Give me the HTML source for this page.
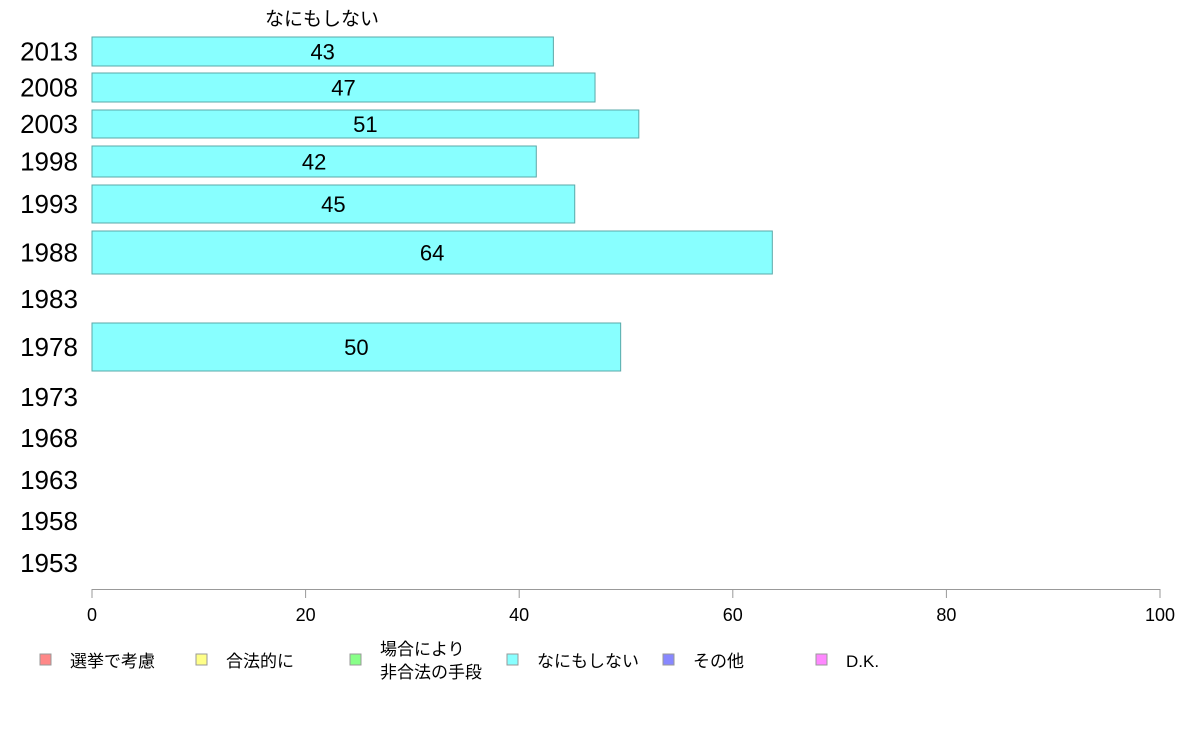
<!DOCTYPE html>
<html><head><meta charset="utf-8"><style>
body{margin:0;background:#fff;}
svg{display:block;font-family:"Liberation Sans","Noto Sans CJK JP",sans-serif;}
</style></head><body>
<svg id="chart" width="1188" height="736" viewBox="0 0 1188 736">
<text x="322" y="25" font-size="19" text-anchor="middle">なにもしない</text>
<g id="bars"></g>
<g id="axis"></g>
<g id="legend"></g>
</svg>
<script>
const years = ["2013","2008","2003","1998","1993","1988","1983","1978","1973","1968","1963","1958","1953"];
const values = [43.2,47.1,51.2,41.6,45.2,63.7,null,49.5,null,null,null,null,null];
const labels = ["43","47","51","42","45","64","","50","","","","",""];
const ticks = [0,20,40,60,80,100];
const legendItems = ["選挙で考慮","合法的に","場合により|非合法の手段","なにもしない","その他","D.K."];
const legendColors = ["#ff8888","#ffff88","#88ff88","#88ffff","#8888ff","#ff88ff"];
// layout (pixels)
const rowCenter = [51.5,87.5,124,161.5,204,252.5,299,347,397,438,480,521,563];
const rowHeight = [29,29,28,31,38,43,40,48,40,40,40,40,40];
const NS="http://www.w3.org/2000/svg";
const x0=92,x1=1160;
const xs=v=>x0+(v/100)*(x1-x0);
function mk(tag,attrs,parent){const e=document.createElementNS(NS,tag);for(const k in attrs)e.setAttribute(k,attrs[k]);parent.appendChild(e);return e;}
const gb=document.getElementById("bars");
years.forEach((y,i)=>{
  const t=mk("text",{x:49,y:rowCenter[i]+9,"font-size":26,"text-anchor":"middle"},gb);
  t.textContent=y;
  
  
  if(values[i]!=null){
    const r=mk("rect",{x:x0,y:rowCenter[i]-rowHeight[i]/2,width:xs(values[i])-x0,height:rowHeight[i],fill:"#88ffff",stroke:"#5aa8a8","stroke-width":1},gb);
    
    
    const v=mk("text",{x:(x0+xs(values[i]))/2,y:rowCenter[i]+8,"font-size":22,"text-anchor":"middle"},gb);
    v.textContent=labels[i];
    
    
  }
});
const ga=document.getElementById("axis");
const al=mk("line",{x1:x0,x2:x1,y1:589.5,y2:589.5,stroke:"#999"},ga);


ticks.forEach(t=>{
  mk("line",{x1:xs(t),x2:xs(t),y1:589,y2:598,stroke:"#999"},ga);
  const tx=mk("text",{x:xs(t),y:621,"font-size":18,"text-anchor":"middle"},ga);
  tx.textContent=t;
  
  
});
const gl=document.getElementById("legend");
const lx=[40,196,350,507,663,816];
legendItems.forEach((s,i)=>{
  const g=mk("g",{},gl);
  
  
  mk("rect",{x:lx[i],y:654,width:11,height:11,fill:legendColors[i],stroke:"#999"},g);
  const parts=s.split("|");
  parts.forEach((p,j)=>{
    const t=mk("text",{x:lx[i]+30,y:parts.length>1?(655+j*23):667,"font-size":17},g);
    t.textContent=p;
  });
});
</script>
</body></html>
